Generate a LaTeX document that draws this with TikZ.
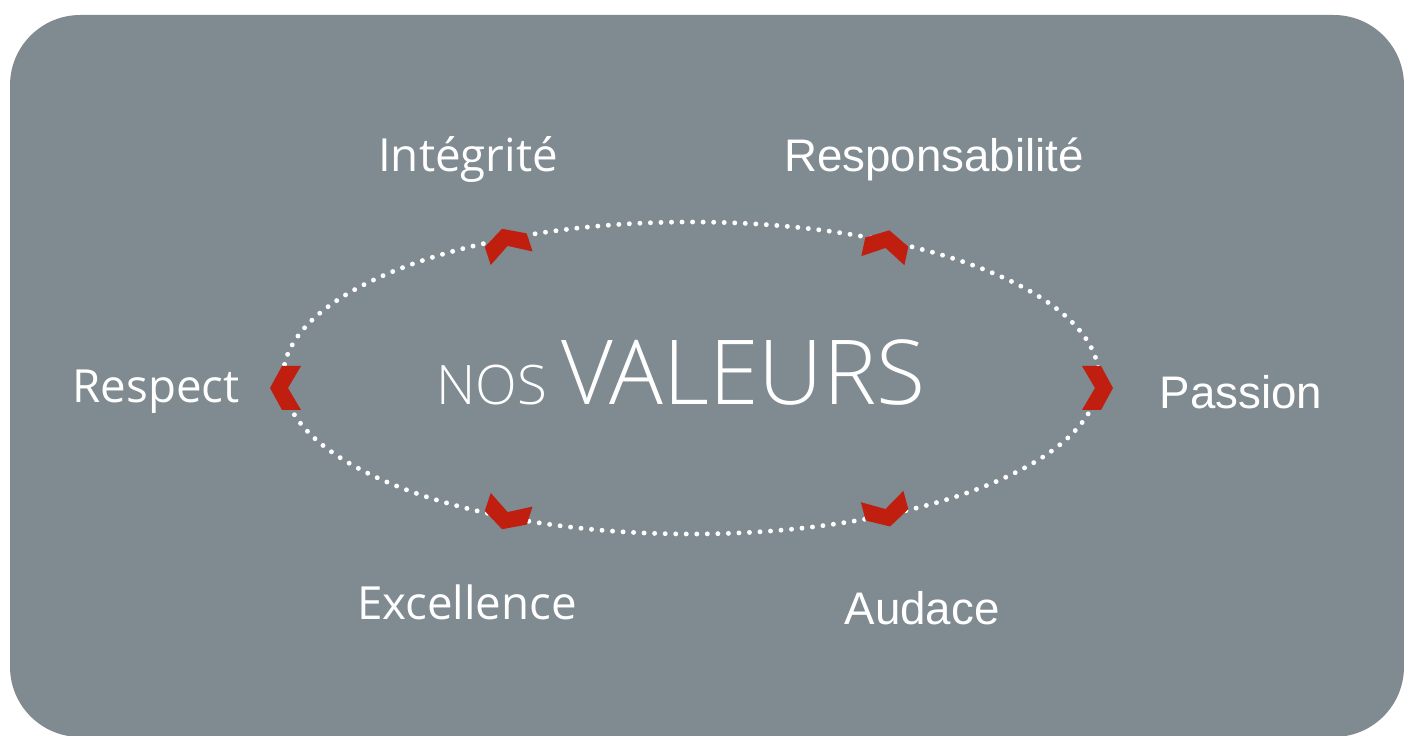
\documentclass[tikz,border=0pt]{standalone}
\usepackage{fontspec}
\setmainfont{Open Sans}
\newfontfamily\helv{Liberation Sans}
\newfontfamily\thinfont{Open Sans Light}
\usepackage{tikz}
\usetikzlibrary{positioning}

\definecolor{panelgrey}{RGB}{127,138,145}
\definecolor{chevronred}{RGB}{192,30,15}

\tikzset{
    valeur/.style={text=white,anchor=base,inner sep=0pt,font=\fontsize{26}{28}\selectfont},
    valeurb/.style={valeur,font=\helv\fontsize{26}{28}\selectfont},
    pics/chevron/.style={code={
        \fill[chevronred] (16,0) -- (4,22) -- (-15,22) -- (-2,0) -- (-15,-22) -- (4,-22) -- cycle;
    }}
}

\begin{document}
\begin{tikzpicture}[x=0.02cm,y=0.02cm]
    \useasboundingbox (0,0) rectangle (1404,-736);
    \fill[panelgrey,rounded corners=40] (10,-15) rectangle (1404,-737);

    % le cercle des valeurs
    \draw[white,line width=2.8pt,line cap=round,dash pattern=on 0pt off 6pt]
        (691,-378) ellipse [x radius=408,y radius=156];

    \path
        (681,-405) node [text=white,anchor=base,inner sep=0pt] (titre)
            {\thinfont\fontsize{31}{31}\selectfont NOS \fontsize{51}{51}\selectfont VALEURS}
        (468,-172)  node [valeur]  (integrite) {Intégrité}
        (934,-172)  node [valeurb] (respons)   {Responsabilité}
        (156,-403)  node [valeur]  (respect)   {Respect}
        (1241,-409) node [valeurb] (passion)   {Passion}
        (467,-620)  node [valeur]  (excellence) {Excellence}
        (922,-624)  node [valeurb] (audace)    {Audace}
        ;

    % chevrons
    \pic[rotate=180] at (286,-388) {chevron};
    \pic[rotate=0]   at (1097,-388) {chevron};
    \pic[rotate=108] at (507,-244) {chevron};
    \pic[rotate=78]  at (886,-246) {chevron};
    \pic[rotate=252] at (507,-514) {chevron};
    \pic[rotate=285] at (886,-511) {chevron};
\end{tikzpicture}
\end{document}
